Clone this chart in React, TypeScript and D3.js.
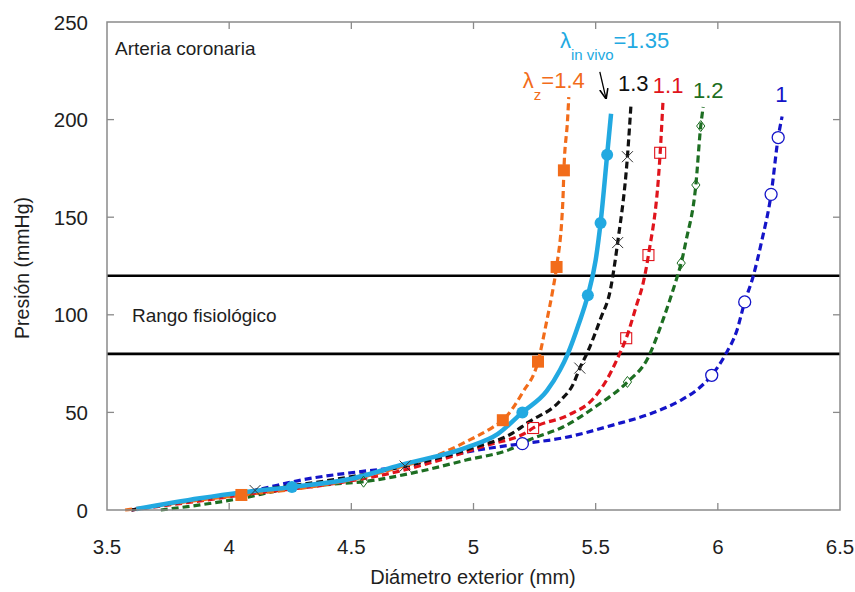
import React from "react";
import * as d3 from "d3";

type P = [number, number];

// ---- data (diameter mm, pressure mmHg) ----
const orangeLine: P[] = [[3.574,0],[3.8,3.8],[4.05,7.7],[4.3,11.2],[4.5,15.5],[4.7,22],[4.85,28],[4.97,35],[5.08,42.5],[5.12,46],[5.2,60],[5.264,76],[5.3,97],[5.325,113],[5.34,124.5],[5.366,159],[5.37,174],[5.385,200],[5.39,211.5]];
const orangeMarks: P[] = [[4.05,7.7],[5.12,46],[5.264,76],[5.34,124.5],[5.37,174]];

const cyanLine: P[] = [[3.62,0.5],[3.88,6],[4.05,9],[4.257,11.8],[4.5,16],[4.7,23],[4.97,32],[5.1,39],[5.2,50],[5.3,61],[5.354,71.7],[5.386,80],[5.43,95],[5.468,110],[5.5,128],[5.52,147],[5.547,182],[5.563,203]];
const cyanMarks: P[] = [[4.257,11.8],[5.2,50],[5.468,110],[5.52,147],[5.547,182]];

const blackLine: P[] = [[3.6,0],[3.85,5],[4.106,10],[4.4,15],[4.72,22.5],[5.0,32],[5.16,39.4],[5.22,44.6],[5.355,56],[5.41,65],[5.435,72.7],[5.465,80.4],[5.52,98],[5.56,112.7],[5.59,137],[5.63,181],[5.645,208.5]];
const blackMarks: P[] = [[4.106,10],[4.72,22.5],[5.435,72.7],[5.59,137],[5.63,181]];

const redLine: P[] = [[3.6,0],[3.9,5],[4.1,8.5],[4.4,13],[4.7,20],[4.9,27],[5.05,33],[5.22,40],[5.244,42],[5.39,48.7],[5.49,57],[5.545,66.6],[5.587,77],[5.625,88],[5.67,106],[5.69,114],[5.716,130.6],[5.764,183],[5.776,210.5]];
const redMarks: P[] = [[5.244,42],[5.625,88],[5.716,130.6],[5.764,183]];

const greenLine: P[] = [[3.72,0],[3.88,2.6],[4.05,6],[4.24,10.8],[4.4,13],[4.55,14.5],[4.77,19.5],[4.97,25.6],[5.16,31.6],[5.23,36],[5.366,42.5],[5.5,53],[5.63,65.6],[5.71,77],[5.78,99],[5.83,118],[5.85,126.5],[5.87,138],[5.91,166.5],[5.93,196.7],[5.94,206.5]];
const greenMarks: P[] = [[4.55,14.5],[5.63,65.6],[5.85,126.5],[5.91,166.5],[5.93,196.7]];

const blueLine: P[] = [[3.6,0],[3.9,6],[4.1,10],[4.3,15.5],[4.56,20],[4.7,22],[4.94,29],[5.11,32.5],[5.2,34],[5.37,37],[5.57,43.5],[5.73,49.6],[5.845,56],[5.914,61.5],[5.975,69],[6.03,79.4],[6.078,92],[6.11,106.6],[6.143,119],[6.18,138],[6.218,161.7],[6.247,190.8],[6.263,201.6]];
const blueMarks: P[] = [[5.2,34],[5.975,69],[6.11,106.6],[6.218,161.7],[6.247,190.8]];

const xTicks = [3.5, 4, 4.5, 5, 5.5, 6, 6.5];
const yTicks = [0, 50, 100, 150, 200, 250];
const rangeLines = [80, 120];

const W = 855, H = 592;
const M = { left: 107, right: 840, top: 22, bottom: 510 };
const FONT = "'Liberation Sans', Arial, sans-serif";

const COL = {
  orange: "#f26c1a",
  cyan: "#22a9e1",
  black: "#111111",
  red: "#e0141c",
  green: "#1d6e22",
  blue: "#1414c8",
};

export default function App() {
  const x = d3.scaleLinear().domain([3.5, 6.5]).range([M.left, M.right]);
  const y = d3.scaleLinear().domain([0, 250]).range([M.bottom, M.top]);
  const line = d3.line<P>().x(d => x(d[0])).y(d => y(d[1])).curve(d3.curveMonotoneX);

  const dashed = (pts: P[], color: string) => (
    <path d={line(pts) || ""} fill="none" stroke={color} strokeWidth={3.2} strokeDasharray="7,4" />
  );

  const axisColor = "#8a8a8a";
  const tickLen = 7;
  const txt = "#1e1e1e";

  return (
    <svg width={W} height={H} style={{ position: "absolute", left: 0, top: 0, background: "#fff" }} fontFamily={FONT}>
      <rect x={0} y={0} width={W} height={H} fill="#fff" />
      {rangeLines.map(v => (
        <line key={v} x1={M.left} x2={M.right} y1={y(v)} y2={y(v)} stroke="#000" strokeWidth={2.6} />
      ))}

      {xTicks.slice(1, -1).map(t => (
        <g key={"xt" + t}>
          <line x1={x(t)} x2={x(t)} y1={M.bottom} y2={M.bottom - tickLen} stroke={axisColor} strokeWidth={1.3} />
          <line x1={x(t)} x2={x(t)} y1={M.top} y2={M.top + tickLen} stroke={axisColor} strokeWidth={1.3} />
        </g>
      ))}
      {yTicks.slice(1, -1).map(t => (
        <g key={"yt" + t}>
          <line x1={M.left} x2={M.left + tickLen} y1={y(t)} y2={y(t)} stroke={axisColor} strokeWidth={1.3} />
          <line x1={M.right} x2={M.right - tickLen} y1={y(t)} y2={y(t)} stroke={axisColor} strokeWidth={1.3} />
        </g>
      ))}

      {dashed(greenLine, COL.green)}
      {dashed(blueLine, COL.blue)}
      {dashed(redLine, COL.red)}
      {dashed(blackLine, COL.black)}
      {dashed(orangeLine, COL.orange)}
      <path d={line(cyanLine) || ""} fill="none" stroke={COL.cyan} strokeWidth={4.5} />

      {greenMarks.map((d, i) => {
        const cx = x(d[0]), cy = y(d[1]), r = 5.5;
        return <path key={"gm" + i} d={`M${cx},${cy - r}L${cx + r * 0.75},${cy}L${cx},${cy + r}L${cx - r * 0.75},${cy}Z`} fill="none" stroke={COL.green} strokeWidth={1} />;
      })}
      {blueMarks.map((d, i) => (
        <circle key={"bm" + i} cx={x(d[0])} cy={y(d[1])} r={6} fill="#fff" stroke={COL.blue} strokeWidth={1.3} />
      ))}
      {redMarks.map((d, i) => (
        <rect key={"rm" + i} x={x(d[0]) - 5.5} y={y(d[1]) - 5.5} width={11} height={11} fill="none" stroke={COL.red} strokeWidth={1.1} />
      ))}
      {blackMarks.map((d, i) => {
        const cx = x(d[0]), cy = y(d[1]), r = 5.5;
        return <path key={"km" + i} d={`M${cx - r},${cy - r}L${cx + r},${cy + r}M${cx - r},${cy + r}L${cx + r},${cy - r}`} stroke="#333" strokeWidth={1} />;
      })}
      {orangeMarks.map((d, i) => (
        <rect key={"om" + i} x={x(d[0]) - 6} y={y(d[1]) - 6} width={12} height={12} fill={COL.orange} />
      ))}
      {cyanMarks.map((d, i) => (
        <circle key={"cm" + i} cx={x(d[0])} cy={y(d[1])} r={6} fill={COL.cyan} />
      ))}

      <rect x={M.left} y={M.top} width={M.right - M.left} height={M.bottom - M.top} fill="none" stroke={axisColor} strokeWidth={1.5} />

      {xTicks.map(t => (
        <text key={"xl" + t} x={x(t)} y={554} textAnchor="middle" fontSize={20.5} fill={txt}>{String(t)}</text>
      ))}
      {yTicks.map(t => (
        <text key={"yl" + t} x={88} y={y(t) + 7.5} textAnchor="end" fontSize={20.5} fill={txt}>{String(t)}</text>
      ))}

      <text x={473} y={584} textAnchor="middle" fontSize={20} fill={txt}>Diámetro exterior (mm)</text>
      <text transform={`translate(29,268) rotate(-90)`} textAnchor="middle" fontSize={19.5} fill={txt}>Presión (mmHg)</text>

      <text x={115} y={55} fontSize={19} fill={txt}>Arteria coronaria</text>
      <text x={x(3.602)} y={y(96.3)} fontSize={19} fill={txt}>Rango fisiológico</text>

      <text x={x(5.354)} y={y(236.7)} fontSize={22} fill={COL.cyan}>
        λ<tspan dy={12} fontSize={15}>in vivo</tspan><tspan dy={-12} fontSize={22}>=1.35</tspan>
      </text>
      <text x={x(5.202)} y={y(216.2)} fontSize={22} fill={COL.orange}>
        λ<tspan dy={12} fontSize={15}>z</tspan><tspan dy={-12} fontSize={22}>=1.4</tspan>
      </text>
      <text x={x(5.591)} y={y(214.6)} fontSize={22} fill={COL.black}>1.3</text>
      <text x={x(5.734)} y={y(213.6)} fontSize={22} fill={COL.red}>1.1</text>
      <text x={x(5.898)} y={y(211)} fontSize={22} fill={COL.green}>1.2</text>
      <text x={x(6.235)} y={y(209)} fontSize={22} fill={COL.blue}>1</text>

      <defs>
        <marker id="arr" viewBox="0 0 10 10" refX={9} refY={5} markerWidth={8} markerHeight={8} orient="auto">
          <path d="M0,1L10,5L0,9" fill="none" stroke="#000" strokeWidth={1.5} />
        </marker>
      </defs>
      <line x1={x(5.517)} y1={y(224.4)} x2={x(5.542)} y2={y(211)} stroke="#000" strokeWidth={1.3} markerEnd="url(#arr)" />
    </svg>
  );
}
